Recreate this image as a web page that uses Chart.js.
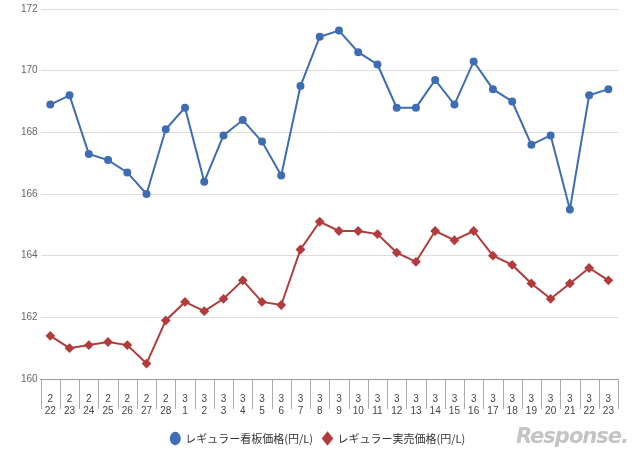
<!DOCTYPE html>
<html>
<head>
<meta charset="utf-8">
<script src="https://cdn.jsdelivr.net/npm/chart.js@4"></script>
<style>
  body { margin: 0; background: #fff; }
  #wrap { position: relative; width: 640px; height: 458px; }
  #logo { position: absolute; right: 12px; bottom: 10px; font: italic bold 21px "DejaVu Sans", sans-serif; color: #c4c4c4; letter-spacing: -1px; }
</style>
</head>
<body>
<div id="wrap">
  <canvas id="c" width="640" height="458"></canvas>
  <div id="logo">Response.</div>
</div>
<script>
// 月と日（2/22〜3/23）
const months = ['2','2','2','2','2','2','2','3','3','3','3','3','3','3','3','3','3','3','3','3','3','3','3','3','3','3','3','3','3','3'];
const days = ['22','23','24','25','26','27','28','1','2','3','4','5','6','7','8','9','10','11','12','13','14','15','16','17','18','19','20','21','22','23'];

const signPrice = [168.9, 169.2, 167.3, 167.1, 166.7, 166.0, 168.1, 168.8, 166.4, 167.9, 168.4, 167.7, 166.6, 169.5, 171.1,
                   171.3, 170.6, 170.2, 168.8, 168.8, 169.7, 168.9, 170.3, 169.4, 169.0, 167.6, 167.9, 165.5, 169.2, 169.4];
const realPrice = [161.4, 161.0, 161.1, 161.2, 161.1, 160.5, 161.9, 162.5, 162.2, 162.6, 163.2, 162.5, 162.4, 164.2, 165.1,
                   164.8, 164.8, 164.7, 164.1, 163.8, 164.8, 164.5, 164.8, 164.0, 163.7, 163.1, 162.6, 163.1, 163.6, 163.2];

const labels = months.map((m, i) => [m, days[i]]);
const blue = '#3e6db3';
const red = '#b23b3b';

// カテゴリ区切り線（ラベル領域）
const separators = {
    id: 'separators',
    afterDraw(chart) {
        const x = chart.scales.x;
        const ctx = chart.ctx;
        const half = (x.getPixelForValue(1) - x.getPixelForValue(0)) / 2;
        ctx.save();
        ctx.strokeStyle = '#aaa';
        ctx.lineWidth = 1;
        ctx.beginPath();
        for (let i = 0; i <= labels.length; i++) {
            const px = Math.round(x.getPixelForValue(0) - half + i * half * 2) + 0.5;
            ctx.moveTo(px, x.top);
            ctx.lineTo(px, x.top + 30);
        }
        ctx.stroke();
        ctx.restore();
    }
};

new Chart(document.getElementById('c'), {
    type: 'line',
    data: {
        labels: labels,
        datasets: [
            {
                label: 'レギュラー看板価格(円/L)',
                data: signPrice,
                borderColor: blue,
                backgroundColor: blue,
                borderWidth: 2,
                pointRadius: 3,
                pointStyle: 'circle',
                tension: 0
            },
            {
                label: 'レギュラー実売価格(円/L)',
                data: realPrice,
                borderColor: red,
                backgroundColor: red,
                borderWidth: 2,
                pointRadius: 3.5,
                pointStyle: 'rectRot',
                tension: 0
            }
        ]
    },
    options: {
        responsive: false,
        animation: false,
        layout: { padding: { left: 18, right: 22, top: 2, bottom: 4 } },
        plugins: {
            legend: {
                position: 'bottom',
                labels: {
                    usePointStyle: true,
                    pointStyleWidth: 9,
                    boxHeight: 8,
                    padding: 10,
                    color: '#333',
                    font: { size: 11, family: '"Noto Sans CJK JP", sans-serif' }
                }
            },
            tooltip: { enabled: false }
        },
        scales: {
            x: {
                offset: true,
                grid: { display: false },
                border: { color: '#999' },
                ticks: { autoSkip: false, maxRotation: 0, color: '#444', font: { size: 10 }, padding: 6 }
            },
            y: {
                min: 160,
                max: 172,
                ticks: { stepSize: 2, color: '#666', font: { size: 10 } },
                grid: { color: '#dcdcdc', drawTicks: false },
                border: { display: false }
            }
        }
    },
    plugins: [separators]
});
</script>
</body>
</html>
